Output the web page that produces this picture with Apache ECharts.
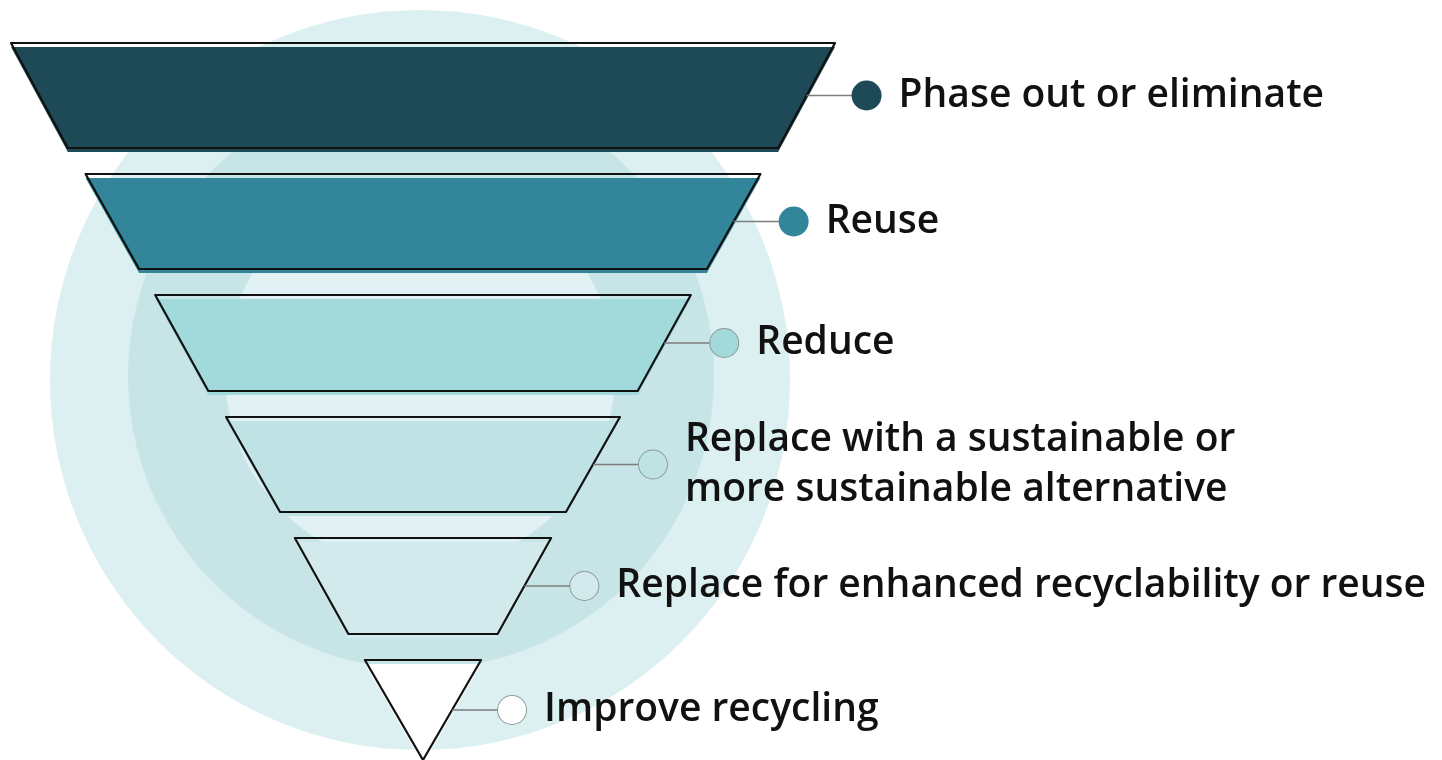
<!DOCTYPE html>
<html lang="en">
<head>
    <meta charset="UTF-8">
    <title>Waste hierarchy</title>
    <script src="https://cdn.jsdelivr.net/npm/echarts@6/dist/echarts.min.js"></script>
    <style>
        html, body { margin: 0; padding: 0; background: #fff; }
        #main { width: 1442px; height: 760px; }
    </style>
</head>
<body>
<div id="main"></div>
<script>
    // stages, top of the funnel first
    var stages = [
        'Phase out or eliminate',
        'Reuse',
        'Reduce',
        'Replace with a sustainable or\nmore sustainable alternative',
        'Replace for enhanced recyclability or reuse',
        'Improve recycling'
    ];
    // width of each band at its top and bottom edge, in % of the widest band
    var topWidth = [100, 81.9, 65.0, 47.8, 31.1, 14.1];
    var bottomWidth = [86.2, 68.9, 52.1, 34.7, 18.1, 0];
    var colors = ['#1d4a56', '#33869a', '#a2d9db', '#bfe3e4', '#d2eaeb', '#ffffff'];

    // layout of the bands (px)
    var bandHeight = [105, 95, 96, 95, 96, 100];
    var gapHeight = 26;

    var clear = 'rgba(0,0,0,0)';

    // each band is followed by a transparent spacer, so the sides stay on one line
    // kind: 'fill' | 'outline' | 'dots'
    function buildData(kind) {
        var out = [];
        for (var i = 0; i < stages.length; i++) {
            var item = { name: stages[i], value: topWidth[i] };
            if (kind === 'fill') {
                item.itemStyle = { color: colors[i], borderWidth: 0, height: bandHeight[i] };
            } else if (kind === 'outline') {
                item.itemStyle = { color: clear, borderColor: '#111', borderWidth: 2.2, height: bandHeight[i] };
            } else {
                item.itemStyle = { color: clear, borderWidth: 0, height: bandHeight[i] };
                item.label = {
                    formatter: '{d|}',
                    rich: {
                        d: {
                            width: 28, height: 28, borderRadius: 14,
                            backgroundColor: colors[i],
                            borderColor: i < 2 ? colors[i] : '#8c9a9b', borderWidth: 1
                        }
                    }
                };
            }
            out.push(item);
            if (i < stages.length - 1) {
                out.push({
                    name: '',
                    value: bottomWidth[i],
                    itemStyle: { color: clear, borderWidth: 0, height: gapHeight },
                    label: { show: false },
                    labelLine: { show: false },
                    emphasis: { disabled: true }
                });
            }
        }
        return out;
    }

    var funnelBox = {
        type: 'funnel',
        left: 11,
        top: 43,
        width: 824,
        height: 717,
        min: 0,
        max: 100,
        minSize: '0%',
        maxSize: '100%',
        sort: 'none',
        gap: 0,
        silent: true
    };

    var chartDom = document.getElementById('main');
    var myChart = echarts.init(chartDom, null, { renderer: 'canvas' });

    var option = {
        animation: false,
        backgroundColor: '#fff',
        graphic: [
            { type: 'circle', z: -10, silent: true, shape: { cx: 420, cy: 380, r: 370 }, style: { fill: '#dcf0f1' } },
            { type: 'circle', z: -9, silent: true, shape: { cx: 421, cy: 376, r: 293 }, style: { fill: '#c7e5e7' } },
            { type: 'circle', z: -8, silent: true, shape: { cx: 420, cy: 373, r: 195 }, style: { fill: '#e2f2f4' } }
        ],
        series: [
            // colour wash sits a little low, like the hand painted original
            Object.assign({}, funnelBox, {
                name: 'fill',
                z: 1,
                top: 47,
                data: buildData('fill'),
                label: { show: false },
                labelLine: { show: false }
            }),
            Object.assign({}, funnelBox, {
                name: 'bands',
                z: 2,
                data: buildData('outline'),
                label: {
                    show: true,
                    position: 'right',
                    formatter: '{b}',
                    color: '#111',
                    fontFamily: 'Open Sans',
                    fontWeight: 600,
                    fontSize: 39,
                    lineHeight: 50
                },
                labelLine: { show: false, length: 87 }
            }),
            Object.assign({}, funnelBox, {
                name: 'dots',
                z: 3,
                data: buildData('dots'),
                label: { show: true, position: 'right' },
                // pull the dot back onto the end of its connector
                labelLayout: { dx: -5 },
                labelLine: { show: true, length: 46, lineStyle: { color: '#7d7d7d', width: 1.5 } }
            })
        ]
    };
    option && myChart.setOption(option);
</script>
</body>
</html>
